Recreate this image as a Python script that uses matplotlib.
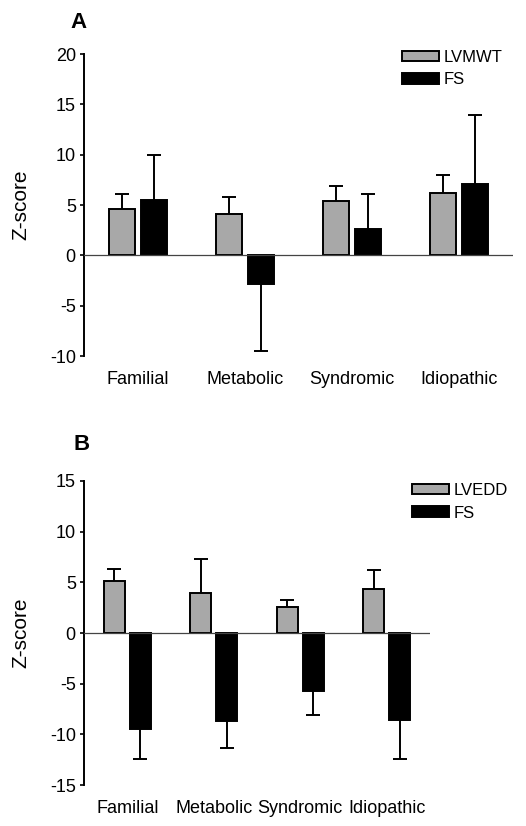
import matplotlib
matplotlib.use('Agg')
import matplotlib.pyplot as plt
import numpy as np

plt.rcParams['font.family'] = ['Liberation Sans', 'DejaVu Sans']
plt.rcParams['axes.unicode_minus'] = False

CATEGORIES = ['Familial', 'Metabolic', 'Syndromic', 'Idiopathic']

# panel A
LVMWT_MEAN = [4.6, 4.1, 5.4, 6.2]
LVMWT_SD = [1.5, 1.7, 1.5, 1.8]
FS_A_MEAN = [5.5, -2.8, 2.6, 7.1]
FS_A_SD = [4.5, 6.7, 3.5, 6.9]

# panel B
LVEDD_MEAN = [5.1, 3.9, 2.6, 4.3]
LVEDD_SD = [1.2, 3.4, 0.7, 1.9]
FS_B_MEAN = [-9.5, -8.7, -5.7, -8.6]
FS_B_SD = [2.9, 2.6, 2.4, 3.8]

GRAY = '#a8a8a8'


def panel(ax, series, ylim, yticks, leg_xy):
    x = np.arange(len(CATEGORIES))
    w = 0.245
    off = 0.15
    for (name, means, sds, color), dx in zip(series, (-off, off)):
        means = np.array(means)
        sds = np.array(sds)
        ax.bar(x + dx, means, w, color=color, edgecolor='black', linewidth=1.4,
               label=name, zorder=2)
        # one-sided error bars pointing away from zero
        ends = means + np.sign(means) * sds
        ax.vlines(x + dx, means, ends, color='black', linewidth=1.4, zorder=1)
        ax.plot(x + dx, ends, ls='none', marker='_', ms=9.5, mew=1.4, color='black', zorder=1)
    ax.axhline(0, color='#444444', linewidth=0.9, zorder=3)
    ax.set_xlim(-0.5, 3.5)
    ax.set_ylim(*ylim)
    ax.set_yticks(yticks)
    ax.set_xticks(x)
    ax.set_xticklabels(CATEGORIES, fontsize=13)
    ax.tick_params(axis='x', length=0, pad=11)
    ax.tick_params(axis='y', length=3, width=1.2, labelsize=13, pad=3)
    for s in ('top', 'right', 'bottom'):
        ax.spines[s].set_visible(False)
    ax.spines['left'].set_linewidth(1.4)
    ax.set_ylabel('Z-score', fontsize=15, labelpad=14)
    ax.legend(loc='upper left', frameon=False, fontsize=12, handlelength=2.2,
              handleheight=0.6, borderpad=0.0, borderaxespad=0.0, labelspacing=0.45,
              handletextpad=0.3, bbox_to_anchor=leg_xy,
              bbox_transform=ax.figure.transFigure)
    return ax


fig = plt.figure(figsize=(5.26, 8.26), dpi=100)
ax1 = fig.add_axes([0.16, 0.569, 0.815, 0.3654])
ax2 = fig.add_axes([0.16, 0.0496, 0.6575, 0.3681])

panel(ax1, [('LVMWT', LVMWT_MEAN, LVMWT_SD, GRAY), ('FS', FS_A_MEAN, FS_A_SD, 'black')],
      (-10, 20), [-10, -5, 0, 5, 10, 15, 20], (402 / 526, 1 - 50 / 826))
panel(ax2, [('LVEDD', LVEDD_MEAN, LVEDD_SD, GRAY), ('FS', FS_B_MEAN, FS_B_SD, 'black')],
      (-15, 15), [-15, -10, -5, 0, 5, 10, 15], (412 / 526, 1 - 483 / 826))

fig.text(0.133, 1 - 22 / 826, 'A', fontsize=16, fontweight='bold', ha='left', va='center')
fig.text(0.139, 1 - 445 / 826, 'B', fontsize=16, fontweight='bold', ha='left', va='center')

fig.savefig('out.png', dpi=100)
